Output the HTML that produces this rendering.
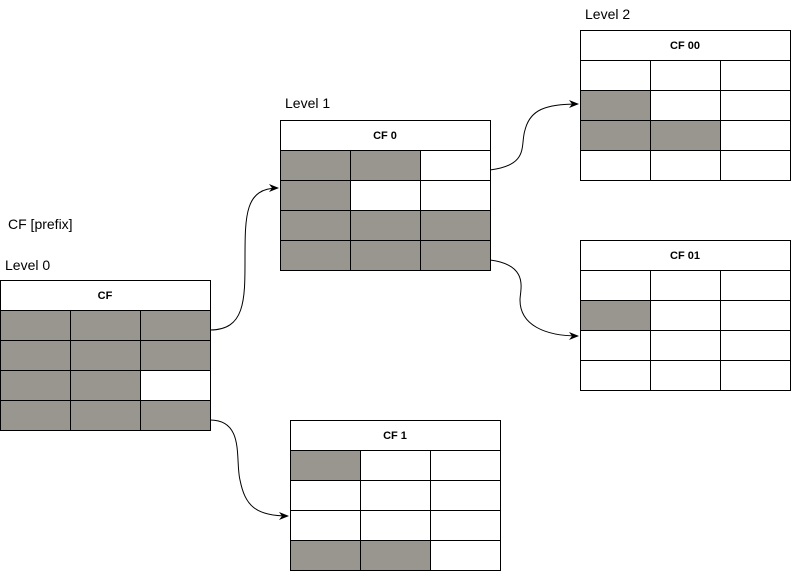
<!DOCTYPE html>
<html><head><style>body{margin:0;background:#fff}svg{display:block}</style></head><body>
<svg width="791" height="571" viewBox="0 0 791 571" xmlns="http://www.w3.org/2000/svg" font-family="Liberation Sans, sans-serif">
<defs><marker id="a" markerWidth="10" markerHeight="8" refX="9" refY="4" orient="auto" markerUnits="userSpaceOnUse"><path d="M0,0 L10,4 L0,8 L3,4 Z" fill="#000"/></marker></defs>
<g id="tables" stroke="#000" stroke-width="1" shape-rendering="crispEdges"></g>
<g font-size="14" fill="#000">
<text x="585" y="19">Level 2</text>
<text x="285" y="108">Level 1</text>
<text x="8" y="229">CF [prefix]</text>
<text x="5" y="270">Level 0</text>
</g>
<g fill="none" stroke="#000" stroke-width="1" marker-end="url(#a)">
<path d="M210,330 C245,330 245,300 245,260 C245,215 245,188 278,188"/>
<path d="M210,420 C245,420 235,460 240,480 C245,505 255,516 288,516"/>
<path d="M490,170 C530,165 520,145 525,130 C530,110 545,104 578,104"/>
<path d="M490,260 C530,265 520,290 520,300 C520,325 545,336 578,336"/>
</g>
</svg>
<script>
var g=document.getElementById('tables');var ns='http://www.w3.org/2000/svg';
function T(x,y,title,grey){var r=document.createElementNS(ns,'rect');r.setAttribute('x',x+.5);r.setAttribute('y',y+.5);r.setAttribute('width',210);r.setAttribute('height',30);r.setAttribute('fill','#fff');g.appendChild(r);
var t=document.createElementNS(ns,'text');t.setAttribute('x',x+105);t.setAttribute('y',y+19);t.setAttribute('text-anchor','middle');t.setAttribute('font-size','11');t.setAttribute('font-weight','bold');t.setAttribute('stroke','none');t.textContent=title;g.appendChild(t);
for(var i=0;i<4;i++)for(var j=0;j<3;j++){var c=document.createElementNS(ns,'rect');c.setAttribute('x',x+j*70+.5);c.setAttribute('y',y+30+i*30+.5);c.setAttribute('width',70);c.setAttribute('height',30);c.setAttribute('fill',grey[i][j]?'#999690':'#fff');g.appendChild(c);}}
T(0,280,'CF',[[1,1,1],[1,1,1],[1,1,0],[1,1,1]]);
T(280,120,'CF 0',[[1,1,0],[1,0,0],[1,1,1],[1,1,1]]);
T(290,420,'CF 1',[[1,0,0],[0,0,0],[0,0,0],[1,1,0]]);
T(580,30,'CF 00',[[0,0,0],[1,0,0],[1,1,0],[0,0,0]]);
T(580,240,'CF 01',[[0,0,0],[1,0,0],[0,0,0],[0,0,0]]);
</script>
</body></html>
